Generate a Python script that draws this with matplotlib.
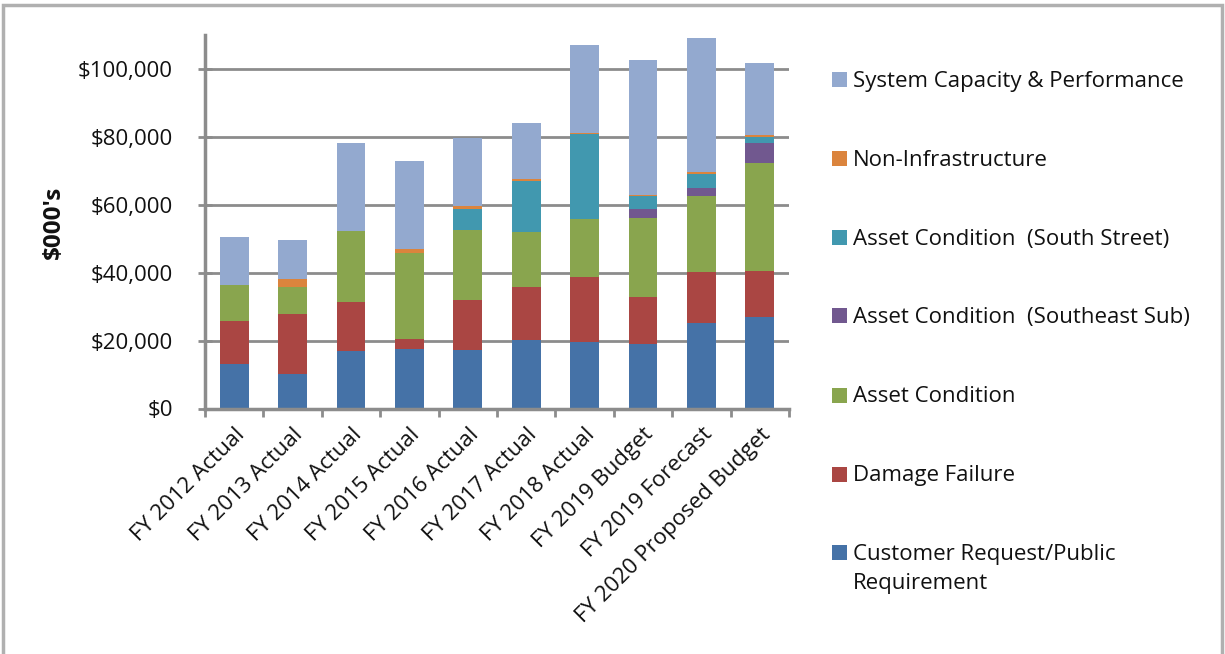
import matplotlib
matplotlib.use("Agg")
import matplotlib.pyplot as plt
from matplotlib.patches import Rectangle
from matplotlib.ticker import FuncFormatter, FixedLocator
import numpy as np

categories = ["FY 2012 Actual", "FY 2013 Actual", "FY 2014 Actual", "FY 2015 Actual",
              "FY 2016 Actual", "FY 2017 Actual", "FY 2018 Actual", "FY 2019 Budget",
              "FY 2019 Forecast", "FY 2020 Proposed Budget"]

# values in $000's, stacked bottom -> top
customer_request = [13000, 10300, 17000, 17500, 17200, 20100, 19600, 18900, 25200, 27000]
damage_failure   = [12800, 17500, 14300, 3100, 14700, 15700, 19100, 13800, 15100, 13500]
asset_condition  = [10500, 8000, 21100, 25200, 20800, 16200, 17200, 23400, 22400, 31800]
asset_southeast  = [0, 0, 0, 0, 0, 0, 0, 2700, 2300, 6000]
asset_south_st   = [0, 0, 0, 0, 6100, 14900, 24800, 3800, 4100, 1800]
non_infra        = [0, 2400, 0, 1200, 700, 800, 400, 400, 600, 500]
system_capacity  = [14200, 11300, 25900, 26000, 20100, 16400, 26000, 39700, 39400, 21300]

series_names = ["Customer Request/Public\nRequirement", "Damage Failure", "Asset Condition",
                "Asset Condition  (Southeast Sub)", "Asset Condition  (South Street)",
                "Non-Infrastructure", "System Capacity & Performance"]
series_values = [customer_request, damage_failure, asset_condition, asset_southeast,
                 asset_south_st, non_infra, system_capacity]
colors = ["#4572A7", "#AA4643", "#89A54E", "#71588F", "#4198AF", "#DB843D", "#93A9CF"]

FONT = "Open Sans"
FS = 16
plt.rcParams["font.family"] = [FONT, "DejaVu Sans"]

W, H = 1225, 654
fig = plt.figure(figsize=(W / 100, H / 100), dpi=100)
fig.patch.set_facecolor("white")

# outer border
fig.patches.append(Rectangle((3 / W, -0.01), (1222 - 3) / W, 1 - 5 / H + 0.01,
                             transform=fig.transFigure, fill=False,
                             edgecolor="#b0b0b0", linewidth=2.5))

left, right, top, bottom = 205, 789, 35, 408.5
ax = fig.add_axes([left / W, 1 - bottom / H, (right - left) / W, (bottom - top) / H])

x = np.arange(len(categories))
base = np.zeros(len(categories))
for vals, col, name in zip(series_values, colors, series_names):
    v = np.array(vals, dtype=float)
    ax.bar(x, v, width=0.49, bottom=base, color=col, edgecolor="none", zorder=3, label=name)
    base += v

ax.set_xlim(-0.5, len(categories) - 0.5)
ax.set_ylim(0, 110000)
ax.set_yticks(np.arange(0, 100001, 20000))
ax.yaxis.set_major_formatter(FuncFormatter(lambda v, p: "${:,.0f}".format(v)))
ax.grid(axis="y", color="#8c8c8c", linewidth=2, zorder=0)

ax.set_xticks(x)
ax.set_xticklabels(categories, rotation=45, ha="right", va="top", rotation_mode="anchor")
ax.xaxis.set_minor_locator(FixedLocator(np.arange(-0.5, len(categories), 1.0)))
ax.tick_params(axis="x", which="major", length=0, pad=11, labelsize=FS, labelcolor="#111111")
ax.tick_params(axis="x", which="minor", length=6, width=2, color="#8c8c8c", direction="out")
ax.tick_params(axis="y", which="major", length=10, width=2, color="#8c8c8c", direction="inout",
               pad=18, labelsize=FS, labelcolor="#111111")

for s in ["top", "right"]:
    ax.spines[s].set_visible(False)
for s in ["left", "bottom"]:
    ax.spines[s].set_color("#8c8c8c")
    ax.spines[s].set_linewidth(2.5)
    ax.spines[s].set_zorder(4)

fig.text(54 / W, 1 - 222 / H, "$000's", rotation=90, ha="center", va="center",
         fontsize=17.5, fontweight="bold", color="#111111")

# legend (top to bottom = reverse stacking order)
ys = [79, 158.3, 237, 316, 395, 474, 552.5]
line_gap = 29.5
for i, (name, col) in enumerate(zip(series_names[::-1], colors[::-1])):
    yc = ys[i]
    fig.patches.append(Rectangle((832 / W, 1 - (yc + 7.5) / H), 15 / W, 15 / H,
                                 transform=fig.transFigure, facecolor=col, edgecolor="none"))
    for j, line in enumerate(name.split("\n")):
        fig.text(853 / W, 1 - (yc + 7.5 + j * line_gap) / H, line, ha="left", va="baseline",
                 fontsize=FS, color="#111111")

fig.savefig("out.png", dpi=100)
